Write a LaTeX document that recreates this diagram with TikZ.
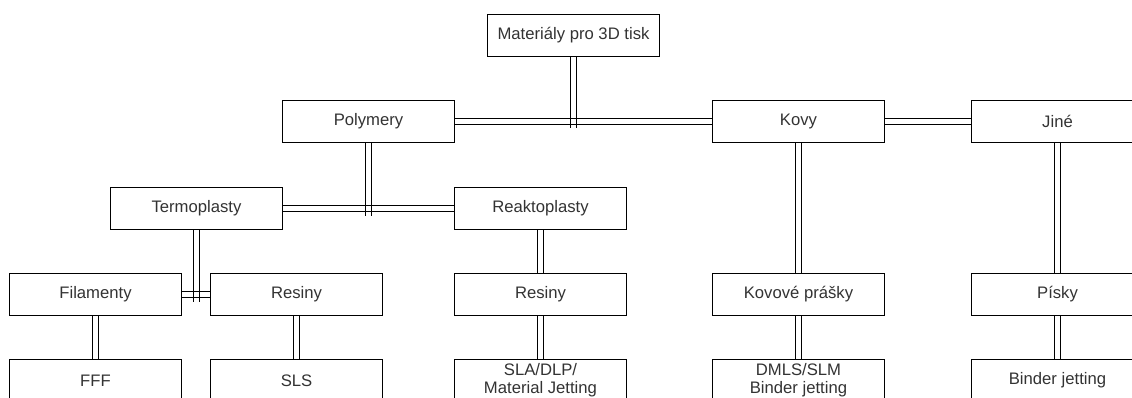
\documentclass[tikz,border=0pt]{standalone}
\usepackage{fontspec}
\setmainfont{Liberation Sans}
\begin{document}
\begin{tikzpicture}[x=0.75pt,y=-0.75pt,
  box/.style={draw=black,line width=0.8pt,fill=white,minimum width=129pt,minimum height=31.5pt,inner sep=0pt,align=center,text=black!80,font=\fontsize{12.5}{13.6}\selectfont},
  vlink/.style={draw=none,postaction={draw,line width=0.75pt,transform canvas={xshift=-2.25pt}},postaction={draw,line width=0.75pt,transform canvas={xshift=2.25pt}}},
  hlink/.style={draw=none,postaction={draw,line width=0.75pt,transform canvas={yshift=-2.25pt}},postaction={draw,line width=0.75pt,transform canvas={yshift=2.25pt}}}]
\useasboundingbox (0,0) rectangle (1132,398);
\clip (0,0) rectangle (1132,398);
% nodes
\node[box] (top) at (573.5,35.5) {Materiály pro 3D tisk};
\node[box] (poly) at (368.5,121.5) {Polymery};
\node[box] (kovy) at (798.5,121.5) {Kovy};
\node[box] (jine) at (1057.5,121.5) {Jiné};
\node[box] (termo) at (196.5,208.5) {Termoplasty};
\node[box] (reakto) at (540.5,208.5) {Reaktoplasty};
\node[box] (fil) at (95.5,294.5) {Filamenty};
\node[box] (resL) at (296.5,294.5) {Resiny};
\node[box] (resM) at (540.5,294.5) {Resiny};
\node[box] (kp) at (798.5,294.5) {Kovové prášky};
\node[box] (pisky) at (1057.5,294.5) {Písky};
\node[box] (fff) at (95.5,380.5) {FFF};
\node[box] (sls) at (296.5,380.5) {SLS};
\node[box] (sla) at (540.5,380.5) {SLA/DLP/\\Material Jetting};
\node[box] (dmls) at (798.5,380.5) {DMLS/SLM\\Binder jetting};
\node[box] (bj) at (1057.5,380.5) {Binder jetting};
\coordinate (j1) at (573.5,128);
\coordinate (j2) at (368.5,216);
\coordinate (j3) at (196.5,302);
% links
\path[hlink] (poly.east) -- (kovy.west);
\path[hlink] (kovy.east) -- (jine.west);
\path[vlink] (top.south) -- (j1);
\path[hlink] (termo.east) -- (reakto.west);
\path[vlink] (poly.south) -- (j2);
\path[hlink] (fil.east) -- (resL.west);
\path[vlink] (termo.south) -- (j3);
\path[vlink] (fil.south) -- (fff.north);
\path[vlink] (resL.south) -- (sls.north);
\path[vlink] (reakto.south) -- (resM.north);
\path[vlink] (resM.south) -- (sla.north);
\path[vlink] (kovy.south) -- (kp.north);
\path[vlink] (kp.south) -- (dmls.north);
\path[vlink] (jine.south) -- (pisky.north);
\path[vlink] (pisky.south) -- (bj.north);
\end{tikzpicture}
\end{document}
